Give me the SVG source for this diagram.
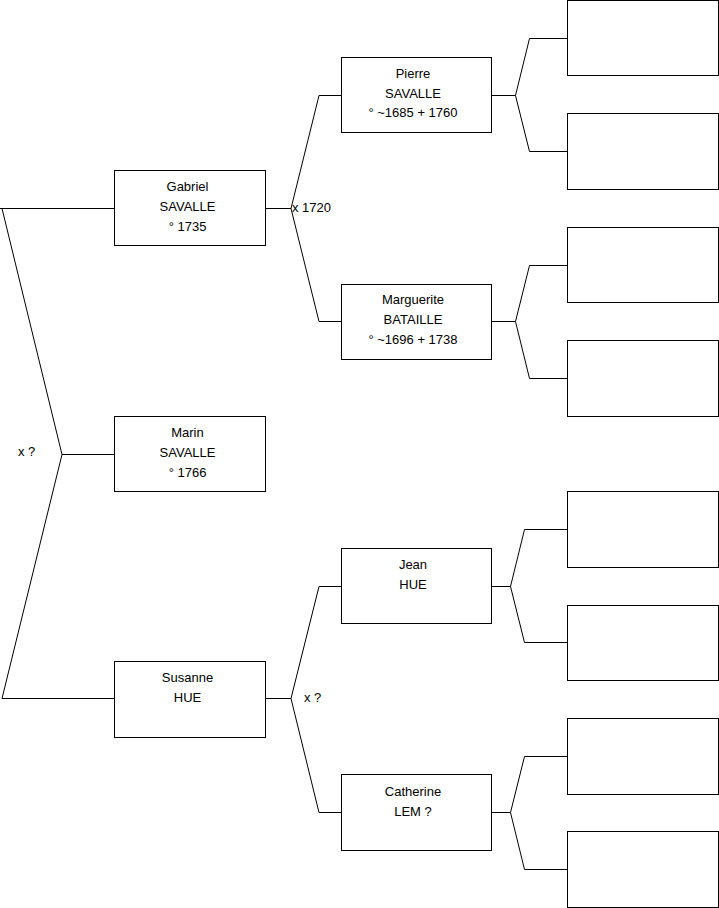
<svg xmlns="http://www.w3.org/2000/svg" width="719" height="908" viewBox="0 0 719 908">
<style>
.box{fill:#fff;stroke:#000;stroke-width:1}
.ln{fill:none;stroke:#000;stroke-width:1}
text{font-family:"Liberation Sans",Arial,sans-serif;font-size:13px;fill:#000}
.c{text-anchor:middle}
</style>
<rect width="719" height="908" fill="#fff"/>
<g id="connectors">
<path class="ln" d="M0,208.5H114.5 M2,208.5L62,454.5L2,698.5H114.5 M62,454.5H114.5"/>
<path class="ln" d="M265.5,208.5H291 L319,95.5H341.5 M291,208.5L319,321.5H341.5"/>
<path class="ln" d="M265.5,698.5H291 L319,586.5H341.5 M291,698.5L319,812.5H341.5"/>
<path class="ln" d="M491.5,95.5H515.5 L529.5,38.5H567.5 M515.5,95.5L529.5,151.5H567.5"/>
<path class="ln" d="M491.5,321.5H515.5 L529.5,265.5H567.5 M515.5,321.5L529.5,378.5H567.5"/>
<path class="ln" d="M491.5,586.5H510.5 L524.5,529.5H567.5 M510.5,586.5L524.5,642.5H567.5"/>
<path class="ln" d="M491.5,812.5H510.5 L524.5,756.5H567.5 M510.5,812.5L524.5,869.5H567.5"/>
<text x="292" y="212">x 1720</text>
<text x="18" y="456">x ?</text>
<text x="304" y="702">x ?</text>
</g>
<g id="gabriel"><rect class="box" x="114.5" y="170.5" width="151" height="75"/>
<text class="c" x="187.5" y="191">Gabriel</text><text class="c" x="187.5" y="211">SAVALLE</text><text class="c" x="187.5" y="231">° 1735</text></g>
<g id="marin"><rect class="box" x="114.5" y="416.5" width="151" height="75"/>
<text class="c" x="187.5" y="437">Marin</text><text class="c" x="187.5" y="457">SAVALLE</text><text class="c" x="187.5" y="477">° 1766</text></g>
<g id="susanne"><rect class="box" x="114.5" y="661.5" width="151" height="76"/>
<text class="c" x="187.5" y="682">Susanne</text><text class="c" x="187.5" y="702">HUE</text></g>
<g id="pierre"><rect class="box" x="341.5" y="57.5" width="150" height="75"/>
<text class="c" x="413" y="78">Pierre</text><text class="c" x="413" y="98">SAVALLE</text><text class="c" x="413" y="117">° ~1685 + 1760</text></g>
<g id="marguerite"><rect class="box" x="341.5" y="284.5" width="150" height="75"/>
<text class="c" x="413" y="304">Marguerite</text><text class="c" x="413" y="324">BATAILLE</text><text class="c" x="413" y="344">° ~1696 + 1738</text></g>
<g id="jean"><rect class="box" x="341.5" y="548.5" width="150" height="75"/>
<text class="c" x="413" y="569">Jean</text><text class="c" x="413" y="589">HUE</text></g>
<g id="catherine"><rect class="box" x="341.5" y="774.5" width="150" height="76"/>
<text class="c" x="413" y="796">Catherine</text><text class="c" x="413" y="816">LEM ?</text></g>
<g id="g3a"><rect class="box" x="567.5" y="0.5" width="151" height="75"/></g>
<g id="g3b"><rect class="box" x="567.5" y="113.5" width="151" height="76"/></g>
<g id="g3c"><rect class="box" x="567.5" y="227.5" width="151" height="75"/></g>
<g id="g3d"><rect class="box" x="567.5" y="340.5" width="151" height="76"/></g>
<g id="g3e"><rect class="box" x="567.5" y="491.5" width="151" height="76"/></g>
<g id="g3f"><rect class="box" x="567.5" y="605.5" width="151" height="75"/></g>
<g id="g3g"><rect class="box" x="567.5" y="718.5" width="151" height="76"/></g>
<g id="g3h"><rect class="box" x="567.5" y="831.5" width="151" height="76"/></g>
</svg>
